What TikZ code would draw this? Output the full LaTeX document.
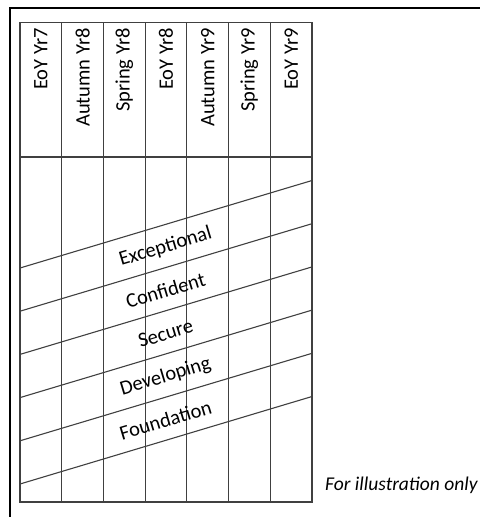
\documentclass[tikz,border=0pt]{standalone}
\usepackage{fontspec}
\setmainfont{Carlito}
\usepackage{tikz}
\usetikzlibrary{calc}
\newcommand{\gridcolor}{black!75}
\newcommand{\gridwidth}{1.1pt}
\newcommand{\bandangle}{16.7}

\begin{document}
\begin{tikzpicture}[x=1pt,y=-1pt]
\useasboundingbox (0,0) rectangle (480,517);
\tikzset{head/.style={rotate=90, anchor=east, inner sep=0pt, font=\fontsize{20.5}{24}\selectfont},
band/.style={rotate=\bandangle, inner sep=0pt, font=\fontsize{20.5}{24}\selectfont}}
% frame
\draw[line width=2pt] (10,517) -- (10,8) -- (480,8);
% table outline
\coordinate (tl) at (20,22.7);
\coordinate (br) at (312,502);
\draw[\gridcolor] [line width = \gridwidth] (tl) rectangle (br);
\draw[\gridcolor] [line width = \gridwidth] (20,157) -- (312,157);
% columns
\draw[\gridcolor] [line width = \gridwidth] (61.7,22.7) -- (61.7,502);
\draw[\gridcolor] [line width = \gridwidth] (103.4,22.7) -- (103.4,502);
\draw[\gridcolor] [line width = \gridwidth] (145.1,22.7) -- (145.1,502);
\draw[\gridcolor] [line width = \gridwidth] (186.9,22.7) -- (186.9,502);
\draw[\gridcolor] [line width = \gridwidth] (228.6,22.7) -- (228.6,502);
\draw[\gridcolor] [line width = \gridwidth] (270.3,22.7) -- (270.3,502);
% headers
\node[head] (h1) at (40.9,28) {EoY Yr7};
\node[head] (h2) at (82.6,28) {Autumn Yr8};
\node[head] (h3) at (124.3,28) {Spring Yr8};
\node[head] (h4) at (166.0,28) {EoY Yr8};
\node[head] (h5) at (207.7,28) {Autumn Yr9};
\node[head] (h6) at (249.4,28) {Spring Yr9};
\node[head] (h7) at (291.2,28) {EoY Yr9};
% band boundaries
\coordinate (l1) at (20,268);
\coordinate (r1) at (312,180.5);
\coordinate (l2) at (20,311.2);
\coordinate (r2) at (312,223.7);
\coordinate (l3) at (20,354.4);
\coordinate (r3) at (312,266.9);
\coordinate (l4) at (20,397.6);
\coordinate (r4) at (312,310.1);
\coordinate (l5) at (20,440.8);
\coordinate (r5) at (312,353.3);
\coordinate (l6) at (20,484);
\coordinate (r6) at (312,396.5);
\draw[\gridcolor] [line width = \gridwidth] (l1) -- (r1);
\draw[\gridcolor] [line width = \gridwidth] (l2) -- (r2);
\draw[\gridcolor] [line width = \gridwidth] (l3) -- (r3);
\draw[\gridcolor] [line width = \gridwidth] (l4) -- (r4);
\draw[\gridcolor] [line width = \gridwidth] (l5) -- (r5);
\draw[\gridcolor] [line width = \gridwidth] (l6) -- (r6);
% bands
\node[band] (exceptional) at (165.5,247) {Exceptional};
\node[band] (confident) at (165.5,290.2) {Confident};
\node[band] (secure) at (165.5,333.4) {Secure};
\node[band] (developing) at (165.5,376.6) {Developing};
\node[band] (foundation) at (165.5,419.8) {Foundation};
% note
\node[anchor=base west, inner sep=0pt, font=\fontsize{19.5}{24}\selectfont\itshape] (note) at (325,490) {For illustration only};
\end{tikzpicture}
\end{document}
